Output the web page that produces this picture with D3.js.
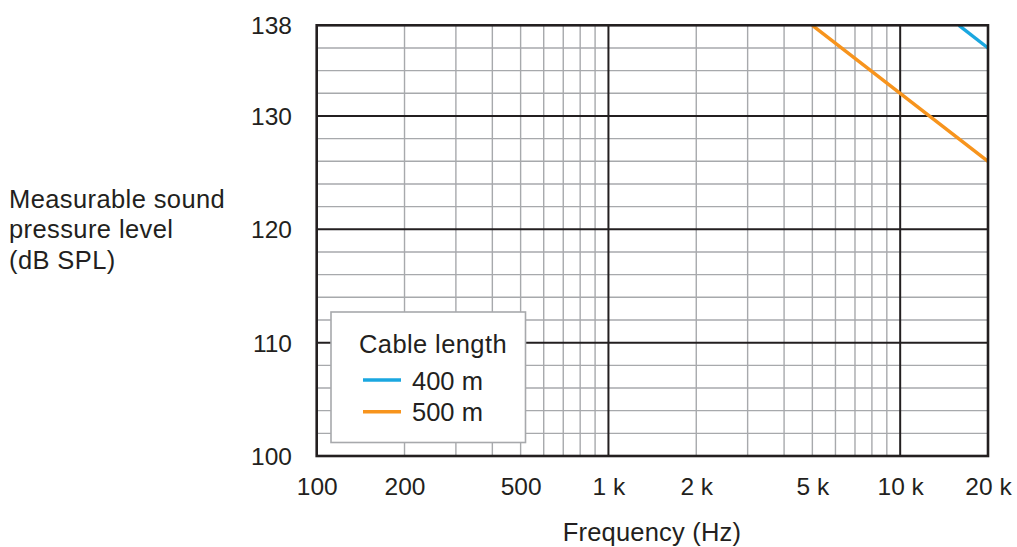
<!DOCTYPE html>
<html><head><meta charset="utf-8">
<script src="https://cdn.jsdelivr.net/npm/d3@7"></script>
<style>body{margin:0;background:#fff}svg{display:block}text{font-family:"Liberation Sans",Arial,sans-serif;fill:#231f20}</style>
</head><body>
<svg id="c" width="1017" height="547"></svg>
<script>
const xTickValues = [100, 200, 500, 1000, 2000, 5000, 10000, 20000];
const xTickLabels = ["100", "200", "500", "1 k", "2 k", "5 k", "10 k", "20 k"];
const yTickValues = [100, 110, 120, 130, 138];
const seriesNames = ["400 m", "500 m"];
const seriesColors = ["#1aa7e0", "#f7941d"];
const series400 = [[15900, 138], [20000, 136]];
const series500 = [[5000, 138], [10000, 132], [20000, 126]];
const seriesData = [series400, series500];

const svg = d3.select("#c");
const L = 316.7, R = 988, T = 25.3, B = 456;
const x = d3.scaleLog().domain([100, 20000]).range([L, R]);
const y = d3.scaleLinear().domain([100, 138]).range([B, T]);

// minor grid
const minorX = [];
[100, 1000, 10000].forEach(d => { for (let k = 2; k <= 9; k++) { const v = d * k; if (v < 20000) minorX.push(v); } });
const minorY = d3.range(102, 138, 2).filter(v => v % 10 !== 0);
const g = svg.append("g");
g.selectAll(".mx").data(minorX).join("line")
  .attr("x1", d => x(d)).attr("x2", d => x(d)).attr("y1", T).attr("y2", B)
  .attr("stroke", "#a7a9ac").attr("stroke-width", 1.4);
g.selectAll(".my").data(minorY).join("line")
  .attr("x1", L).attr("x2", R).attr("y1", d => y(d)).attr("y2", d => y(d))
  .attr("stroke", "#a7a9ac").attr("stroke-width", 1.4);
// major grid
g.selectAll(".Mx").data([1000, 10000]).join("line")
  .attr("x1", d => x(d)).attr("x2", d => x(d)).attr("y1", T).attr("y2", B)
  .attr("stroke", "#231f20").attr("stroke-width", 2);
g.selectAll(".My").data([110, 120, 130]).join("line")
  .attr("x1", L).attr("x2", R).attr("y1", d => y(d)).attr("y2", d => y(d))
  .attr("stroke", "#231f20").attr("stroke-width", 2);

// series
const line = d3.line().x(d => x(d[0])).y(d => y(d[1]));
seriesData.forEach((s, i) => {
  svg.append("path").datum(s).attr("d", line).attr("fill", "none")
    .attr("stroke", seriesColors[i]).attr("stroke-width", 3.4);
});

// frame
svg.append("rect").attr("x", L).attr("y", T).attr("width", R - L).attr("height", B - T)
  .attr("fill", "none").attr("stroke", "#231f20").attr("stroke-width", 2.6);

// axes labels via d3 axes
const FF = '"Liberation Sans",Arial,sans-serif';
const xAxis = d3.axisBottom(x).tickValues(xTickValues).tickFormat((d, i) => xTickLabels[i]).tickSize(0).tickPadding(0);
const xg = svg.append("g").attr("transform", `translate(0,${B})`).call(xAxis);
xg.select(".domain").remove();
xg.selectAll("text").attr("font-size", 24.5).attr("dy", null).attr("y", 39).style("font-family", FF).attr("fill", "#231f20");

const yAxis = d3.axisLeft(y).tickValues(yTickValues).tickSize(0).tickPadding(0);
const yg = svg.append("g").attr("transform", `translate(292,0)`).call(yAxis);
yg.select(".domain").remove();
yg.selectAll("text").attr("font-size", 24.5).attr("dy", "0.35em").style("font-family", FF).attr("fill", "#231f20");

// titles
svg.append("text").attr("x", 652).attr("y", 541).attr("text-anchor", "middle")
  .attr("font-size", 25.5).attr("letter-spacing", 0.2).text("Frequency (Hz)");
const yt = svg.append("text").attr("x", 9).attr("font-size", 25.5).attr("letter-spacing", 0.4);
["Measurable sound", "pressure level", "(dB SPL)"].forEach((t, i) => {
  yt.append("tspan").attr("x", 9).attr("y", 207.5 + i * 30.7).text(t);
});

// legend
const lg = svg.append("g");
lg.append("rect").attr("x", 331).attr("y", 312).attr("width", 194.5).attr("height", 130.5)
  .attr("fill", "#fff").attr("stroke", "#a7a9ac").attr("stroke-width", 1.6);
lg.append("text").attr("x", 359).attr("y", 353).attr("font-size", 25.5).attr("letter-spacing", 0.4).text("Cable length");
seriesNames.forEach((n, i) => {
  const yy = 380 + i * 31.7;
  lg.append("line").attr("x1", 363).attr("x2", 401).attr("y1", yy).attr("y2", yy)
    .attr("stroke", seriesColors[i]).attr("stroke-width", 3.4);
  lg.append("text").attr("x", 412).attr("y", yy + 9.5).attr("font-size", 25.5).text(n);
});
</script>
</body></html>
